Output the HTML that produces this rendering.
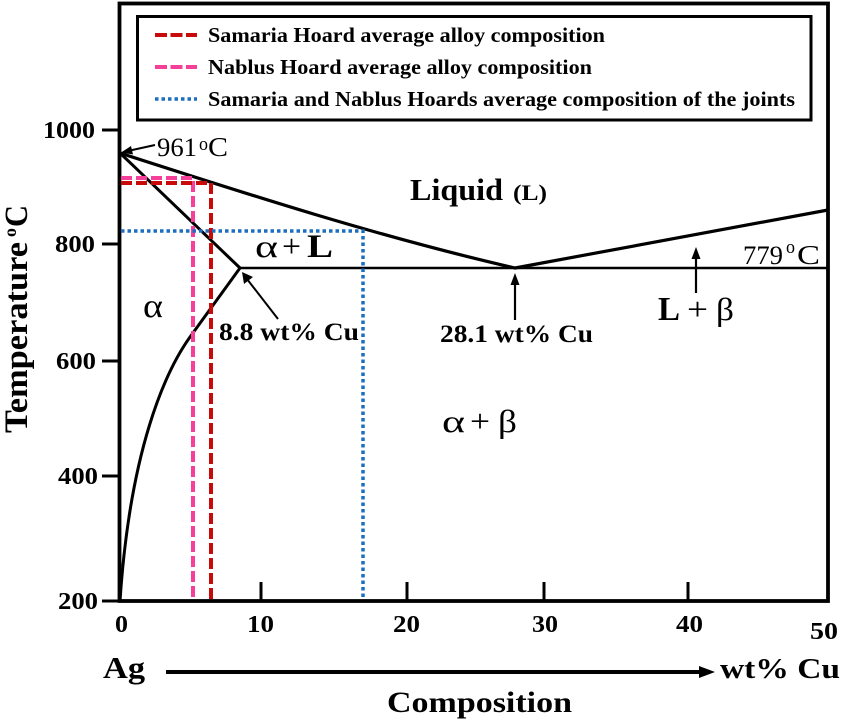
<!DOCTYPE html>
<html>
<head>
<meta charset="utf-8">
<style>
  html, body { margin: 0; padding: 0; background: #fff; }
  svg { display: block; }
  text { font-family: "Liberation Serif", "Times New Roman", serif; fill: #000; }
  .b { font-weight: bold; }
</style>
</head>
<body>
<svg width="850" height="723" viewBox="0 0 850 723" xmlns="http://www.w3.org/2000/svg">
  <rect x="0" y="0" width="850" height="723" fill="#fff"/>

  <!-- Frame -->
  <rect x="119.5" y="3.5" width="708.5" height="597.5" fill="none" stroke="#000" stroke-width="3.8"/>

  <!-- Y ticks -->
  <g stroke="#000" stroke-width="3">
    <line x1="102" y1="130" x2="119" y2="130"/>
    <line x1="102" y1="244" x2="119" y2="244"/>
    <line x1="102" y1="361" x2="119" y2="361"/>
    <line x1="102" y1="476" x2="119" y2="476"/>
    <line x1="102" y1="601" x2="119" y2="601"/>
  </g>
  <!-- X ticks (inside) -->
  <g stroke="#000" stroke-width="3">
    <line x1="261" y1="582" x2="261" y2="601"/>
    <line x1="407" y1="582" x2="407" y2="601"/>
    <line x1="544" y1="582" x2="544" y2="601"/>
    <line x1="688" y1="582" x2="688" y2="601"/>
  </g>

  <!-- Y tick labels -->
  <g class="b" font-size="24">
    <text x="43" y="138" textLength="52" lengthAdjust="spacingAndGlyphs">1000</text>
    <text x="55" y="252" textLength="40" lengthAdjust="spacingAndGlyphs">800</text>
    <text x="56" y="369" textLength="40" lengthAdjust="spacingAndGlyphs">600</text>
    <text x="58" y="484" textLength="40" lengthAdjust="spacingAndGlyphs">400</text>
    <text x="58" y="609" textLength="40" lengthAdjust="spacingAndGlyphs">200</text>
  </g>
  <!-- X tick labels -->
  <g class="b" font-size="24">
    <text x="115" y="632" textLength="13" lengthAdjust="spacingAndGlyphs">0</text>
    <text x="247" y="632" textLength="27" lengthAdjust="spacingAndGlyphs">10</text>
    <text x="393" y="632" textLength="27" lengthAdjust="spacingAndGlyphs">20</text>
    <text x="532" y="632" textLength="26" lengthAdjust="spacingAndGlyphs">30</text>
    <text x="676" y="632" textLength="27" lengthAdjust="spacingAndGlyphs">40</text>
    <text x="810" y="639" textLength="28" lengthAdjust="spacingAndGlyphs">50</text>
  </g>

  <!-- Y axis title -->
  <g transform="translate(27,433) rotate(-90)">
    <text class="b" font-size="33" x="0" y="0" textLength="191" lengthAdjust="spacingAndGlyphs">Temperature</text>
    <text class="b" font-size="18" x="196" y="-11">o</text>
    <text class="b" font-size="33" x="206" y="0" textLength="22" lengthAdjust="spacingAndGlyphs">C</text>
  </g>

  <!-- Bottom axis annotation -->
  <text class="b" font-size="31" x="103" y="678" textLength="42" lengthAdjust="spacingAndGlyphs">Ag</text>
  <line x1="166" y1="672" x2="703" y2="672" stroke="#000" stroke-width="4"/>
  <polygon points="699,666 715,672 699,678" fill="#000"/>
  <text class="b" font-size="29" x="720" y="678" textLength="120" lengthAdjust="spacingAndGlyphs">wt% Cu</text>
  <text class="b" font-size="30" x="387" y="712" textLength="185" lengthAdjust="spacingAndGlyphs">Composition</text>

  <!-- Legend -->
  <rect x="137.5" y="16.5" width="673.5" height="103.5" fill="#fff" stroke="#000" stroke-width="3"/>
  <line x1="155" y1="35" x2="197" y2="35" stroke="#c80a0a" stroke-width="4" stroke-dasharray="12 3.5"/>
  <line x1="155" y1="67" x2="197" y2="67" stroke="#f5409a" stroke-width="4" stroke-dasharray="12 3.5"/>
  <line x1="155" y1="99" x2="197" y2="99" stroke="#1c6fc0" stroke-width="3.5" stroke-dasharray="3.5 3"/>
  <g class="b" font-size="21">
    <text x="208" y="42" textLength="397" lengthAdjust="spacingAndGlyphs">Samaria Hoard average alloy composition</text>
    <text x="208" y="74" textLength="384" lengthAdjust="spacingAndGlyphs">Nablus Hoard average alloy composition</text>
    <text x="208" y="106" textLength="587" lengthAdjust="spacingAndGlyphs">Samaria and Nablus Hoards average composition of the joints</text>
  </g>

  <!-- Phase boundaries -->
  <g fill="none" stroke="#000" stroke-linecap="round" stroke-linejoin="round">
    <path d="M120,153 C250,195 380,237 515,268" stroke-width="3.2"/>
    <path d="M515,268 L828,210" stroke-width="3.2"/>
    <path d="M120,153 L240,268" stroke-width="3"/>
    <path d="M240,268 L828,268" stroke-width="2.6"/>
    <path d="M240,268 L190,337 C165,372 130,450 120,601" stroke-width="3"/>
  </g>

  <!-- Composition dashed lines -->
  <g fill="none">
    <path d="M121,178 L193,178 L193,600" stroke="#f5409a" stroke-width="4" stroke-dasharray="11 4"/>
    <path d="M121,183 L211,183 L211,600" stroke="#c80a0a" stroke-width="4" stroke-dasharray="11 4"/>
    <path d="M121,231 L363,231 L363,599" stroke="#1c6fc0" stroke-width="3.5" stroke-dasharray="3.5 3"/>
  </g>

  <!-- Annotations: 961 °C -->
  <line x1="155" y1="145" x2="130" y2="150.5" stroke="#000" stroke-width="2"/>
  <polygon points="121,152.5 131,146 133,154.5" fill="#000"/>
  <text font-size="26" x="157" y="156" textLength="40" lengthAdjust="spacingAndGlyphs">961</text>
  <text font-size="19" x="199" y="150" textLength="9" lengthAdjust="spacingAndGlyphs">o</text>
  <text font-size="27" x="208" y="156" textLength="20" lengthAdjust="spacingAndGlyphs">C</text>

  <!-- Liquid (L) -->
  <text class="b" font-size="31" x="410" y="200" textLength="93" lengthAdjust="spacingAndGlyphs">Liquid</text>
  <text class="b" font-size="22" x="513" y="200" textLength="34" lengthAdjust="spacingAndGlyphs">(L)</text>

  <!-- α + L -->
  <text font-size="32" x="255" y="257" textLength="23" lengthAdjust="spacingAndGlyphs">α</text>
  <text font-size="32" x="282" y="257" textLength="19" lengthAdjust="spacingAndGlyphs">+</text>
  <text class="b" font-size="33" x="307" y="257" textLength="26" lengthAdjust="spacingAndGlyphs">L</text>

  <!-- α -->
  <text font-size="34" x="143" y="317" textLength="20" lengthAdjust="spacingAndGlyphs">α</text>

  <!-- 8.8 wt% Cu -->
  <line x1="278" y1="319" x2="247" y2="279" stroke="#000" stroke-width="2"/>
  <polygon points="242,272 244,284 253,277" fill="#000"/>
  <text class="b" font-size="25" x="219" y="340" textLength="140" lengthAdjust="spacingAndGlyphs">8.8 wt% Cu</text>

  <!-- 28.1 wt% Cu -->
  <line x1="515" y1="320" x2="515" y2="283" stroke="#000" stroke-width="2.2"/>
  <polygon points="515,273 510.5,285 519.5,285" fill="#000"/>
  <text class="b" font-size="25" x="440" y="342" textLength="153" lengthAdjust="spacingAndGlyphs">28.1 wt% Cu</text>

  <!-- 779 °C -->
  <text font-size="26" x="743" y="264" textLength="40" lengthAdjust="spacingAndGlyphs">779</text>
  <text font-size="19" x="786" y="253" textLength="9" lengthAdjust="spacingAndGlyphs">o</text>
  <text font-size="27" x="797" y="264" textLength="23" lengthAdjust="spacingAndGlyphs">C</text>

  <!-- L + β -->
  <line x1="696" y1="293" x2="696" y2="257" stroke="#000" stroke-width="2.2"/>
  <polygon points="696,247 691.5,259 700.5,259" fill="#000"/>
  <text class="b" font-size="34" x="658" y="320" textLength="22" lengthAdjust="spacingAndGlyphs">L</text>
  <text font-size="32" x="687" y="320" textLength="21" lengthAdjust="spacingAndGlyphs">+</text>
  <text font-size="32" x="716" y="320" textLength="18" lengthAdjust="spacingAndGlyphs">β</text>

  <!-- α + β -->
  <text font-size="32" x="442" y="432" textLength="23" lengthAdjust="spacingAndGlyphs">α</text>
  <text font-size="32" x="470" y="432" textLength="20" lengthAdjust="spacingAndGlyphs">+</text>
  <text font-size="32" x="498" y="432" textLength="19" lengthAdjust="spacingAndGlyphs">β</text>
</svg>
</body>
</html>
